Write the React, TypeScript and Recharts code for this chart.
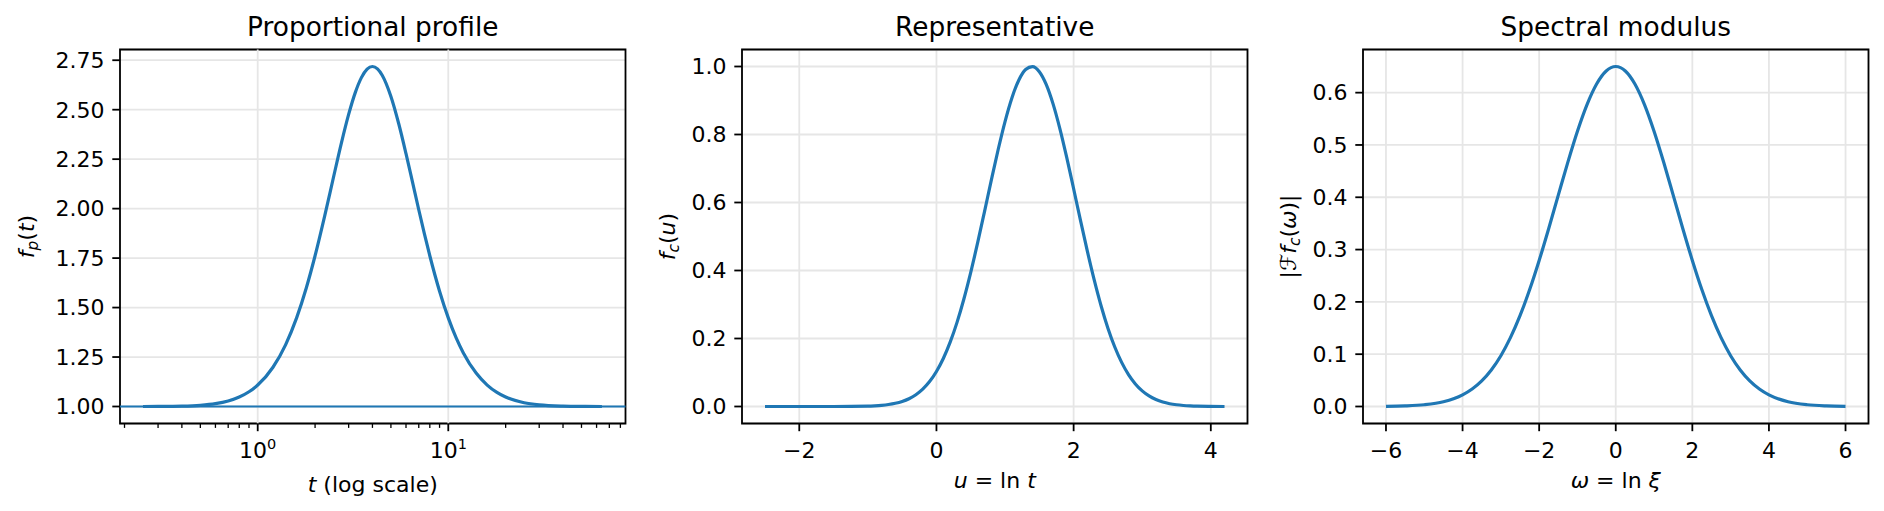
import {
  LineChart,
  Line,
  XAxis,
  YAxis,
  CartesianGrid,
  ReferenceLine,
  ReferenceArea,
} from "recharts";

// ---- panel 1: proportional profile, t on a log axis
const T_VALUES = [
  0.25, 0.3, 0.4, 0.5, 0.6, 0.7, 0.8, 0.9, 1.0, 1.2, 1.4, 1.6, 1.8, 2.0, 2.25,
  2.5, 2.75, 3.0, 3.25, 3.5, 3.75, 4.0, 4.25, 4.5, 5.0, 5.5, 6.0, 6.5, 7.0, 7.5,
  8.0, 9.0, 10, 11, 12, 14, 16, 18, 20, 25, 30, 40, 50, 64,
];
const FP_VALUES = [
  1.0001, 1.0004, 1.0019, 1.006, 1.0142, 1.0278, 1.0477, 1.0745, 1.1084,
  1.1971, 1.3118, 1.4481, 1.6003, 1.7618, 1.9658, 2.1598, 2.3325, 2.476,
  2.5864, 2.6621, 2.705, 2.7183, 2.7065, 2.6744, 2.5671, 2.4277, 2.2778,
  2.1311, 1.9944, 1.8711, 1.7619, 1.5828, 1.4481, 1.347, 1.2709, 1.1689,
  1.1083, 1.0712, 1.0477, 1.019, 1.0082, 1.0019, 1.0005, 1.0001,
];
const LOG_MAJOR = [1, 10];
const LOG_TICKS = [
  0.2, 0.3, 0.4, 0.5, 0.6, 0.7, 0.8, 0.9, 1, 2, 3, 4, 5, 6, 7, 8, 9, 10, 20,
  30, 40, 50, 60, 70, 80,
];
const FP_TICKS = [1.0, 1.25, 1.5, 1.75, 2.0, 2.25, 2.5, 2.75];

// ---- panel 2: representative in u = ln t
const U_VALUES = [
  -2.5, -2.0, -1.5, -1.0, -0.9, -0.8, -0.7, -0.6, -0.5, -0.4, -0.3, -0.2, -0.1,
  0.0, 0.1, 0.2, 0.3, 0.4, 0.5, 0.6, 0.7, 0.8, 0.9, 1.0, 1.1, 1.2, 1.3, 1.4,
  1.5, 1.6, 1.7, 1.8, 1.9, 2.0, 2.1, 2.2, 2.3, 2.4, 2.5, 2.6, 2.7, 2.8, 2.9,
  3.0, 3.1, 3.2, 3.3, 3.4, 3.5, 3.6, 3.7, 3.8, 4.2,
];
const FC_VALUES = [
  0, 0, 0.00005, 0.00118, 0.00206, 0.00349, 0.00579, 0.00938, 0.01484,
  0.02291, 0.03456, 0.05089, 0.07322, 0.10288, 0.14111, 0.18915, 0.24745,
  0.31626, 0.3947, 0.4811, 0.57269, 0.66578, 0.75584, 0.83811, 0.90756,
  0.95975, 0.99123, 0.99978, 0.98482, 0.94739, 0.89007, 0.81666, 0.73178,
  0.64036, 0.54726, 0.45678, 0.37235, 0.29639, 0.23043, 0.17497, 0.12973,
  0.09394, 0.06644, 0.04587, 0.03095, 0.02039, 0.01311, 0.00824, 0.00506,
  0.00303, 0.00177, 0.00101, 0.00003,
];
const U_TICKS = [-2, 0, 2, 4];
const FC_TICKS = [0, 0.2, 0.4, 0.6, 0.8, 1.0];

// ---- panel 3: spectral modulus
const W_VALUES = [
  -6, -5.5, -5, -4.5, -4, -3.75, -3.5, -3.25, -3, -2.75, -2.5, -2.25, -2,
  -1.75, -1.5, -1.25, -1, -0.75, -0.5, -0.25, 0, 0.25, 0.5, 0.75, 1, 1.25, 1.5,
  1.75, 2, 2.25, 2.5, 2.75, 3, 3.25, 3.5, 3.75, 4, 4.5, 5, 5.5, 6,
];
const SPEC_VALUES = [
  0.00032, 0.00109, 0.00331, 0.00902, 0.02213, 0.03332, 0.04887, 0.06981,
  0.09711, 0.13156, 0.17359, 0.22308, 0.27921, 0.34037, 0.40411, 0.46727,
  0.52621, 0.57717, 0.61656, 0.64147, 0.65, 0.64147, 0.61656, 0.57717,
  0.52621, 0.46727, 0.40411, 0.34037, 0.27921, 0.22308, 0.17359, 0.13156,
  0.09711, 0.06981, 0.04887, 0.03332, 0.02213, 0.00902, 0.00331, 0.00109,
  0.00032,
];
const W_TICKS = [-6, -4, -2, 0, 2, 4, 6];
const SPEC_TICKS = [0, 0.1, 0.2, 0.3, 0.4, 0.5, 0.6];

// ---- styling / layout
const FONT = "'DejaVu Sans', sans-serif";
const BLUE = "#1f77b4";
const GRID = "#e6e6e6";
const PLOT_W = 505.5;
const PLOT_TOP = 49.5;
const Y_AXIS_W = 110;
const X_AXIS_H = 87.5;
const CHART_H = 511;
const CHART_W = Y_AXIS_W + PLOT_W + 10;
const CX = Y_AXIS_W + PLOT_W / 2;
const CY = PLOT_TOP + (CHART_H - PLOT_TOP - X_AXIS_H) / 2;

const tickStyle = { fontSize: 22, fill: "#000", fontFamily: FONT };
const tickLine = { stroke: "#000", strokeWidth: 1.8 };
const minus = (v: number, digits: number) =>
  v.toFixed(digits).replace("-", "\u2212");

function LogTick(props: any) {
  const { x, y, payload } = props;
  const v = payload.value;
  const major = LOG_MAJOR.includes(v);
  return (
    <g>
      <line
        x1={x}
        x2={x}
        y1={y}
        y2={y + (major ? 7.7 : 4.4)}
        stroke="#000"
        strokeWidth={major ? 1.8 : 1.3}
      />
      {major && (
        <text
          x={x}
          y={y + 34.3}
          textAnchor="middle"
          fontSize={22}
          fontFamily={FONT}
          fill="#000"
        >
          10
          <tspan fontSize={14.5} dy={-9}>
            {Math.round(Math.log10(v))}
          </tspan>
        </text>
      )}
    </g>
  );
}

function Title({ text }: { text: string }) {
  return (
    <text x={CX} y={36} textAnchor="middle" fontSize={26.4} fontFamily={FONT} fill="#000">
      {text}
    </text>
  );
}

function RotLabel({ x, children }: { x: number; children: any }) {
  return (
    <text
      x={x}
      y={CY}
      transform={`rotate(-90 ${x} ${CY})`}
      textAnchor="middle"
      fontSize={22}
      fontFamily={FONT}
      fill="#000"
    >
      {children}
    </text>
  );
}

function XLabel({ y, children }: { y: number; children: any }) {
  return (
    <text x={CX} y={y} textAnchor="middle" fontSize={22} fontFamily={FONT} fill="#000">
      {children}
    </text>
  );
}

const wrap = (left: number): React.CSSProperties => ({
  position: "absolute",
  left: left - Y_AXIS_W,
  top: 0,
});

const margin = { top: PLOT_TOP, right: 10, bottom: 0, left: 0 };

function ProfilePanel() {
  const data = T_VALUES.map((t, i) => ({ t, fp: FP_VALUES[i] }));
  const xd: [number, number] = [0.1894, 85.1];
  const yd: [number, number] = [0.9141, 2.8042];
  return (
    <div style={wrap(120)}>
      <LineChart width={CHART_W} height={CHART_H} data={data} margin={margin}>
        <CartesianGrid vertical={false} stroke={GRID} strokeWidth={1.8} />
        {LOG_MAJOR.map((v) => (
          <ReferenceLine key={v} x={v} stroke={GRID} strokeWidth={1.8} />
        ))}
        <XAxis
          dataKey="t"
          type="number"
          scale="log"
          domain={xd}
          allowDataOverflow
          ticks={LOG_TICKS}
          interval={0}
          tick={<LogTick />}
          tickLine={false}
          tickSize={0}
          tickMargin={0}
          axisLine={false}
          height={X_AXIS_H}
        />
        <YAxis
          type="number"
          domain={yd}
          allowDataOverflow
          ticks={FP_TICKS}
          interval={0}
          tickFormatter={(v: number) => minus(v, 2)}
          tick={tickStyle}
          tickLine={tickLine}
          tickSize={7.7}
          tickMargin={7.7}
          axisLine={false}
          width={Y_AXIS_W}
        />
        <ReferenceLine y={1} stroke={BLUE} strokeWidth={1.8} />
        <Line
          dataKey="fp"
          type="monotone"
          stroke={BLUE}
          strokeWidth={3.2}
          dot={false}
          isAnimationActive={false}
        />
        <ReferenceArea
          x1={xd[0]}
          x2={xd[1]}
          y1={yd[0]}
          y2={yd[1]}
          fill="none"
          fillOpacity={0}
          stroke="#000"
          strokeWidth={1.8}
          ifOverflow="visible"
        />
        <Title text="Proportional profile" />
        <RotLabel x={Y_AXIS_W - 86.5}>
          <tspan fontStyle="italic">f</tspan>
          <tspan fontStyle="italic" fontSize={15.4} dy={4}>
            p
          </tspan>
          <tspan dy={-4}>(</tspan>
          <tspan fontStyle="italic">t</tspan>
          <tspan>)</tspan>
        </RotLabel>
        <XLabel y={491.5}>
          <tspan fontStyle="italic">t</tspan>
          <tspan> (log scale)</tspan>
        </XLabel>
      </LineChart>
    </div>
  );
}

function RepresentativePanel() {
  const data = U_VALUES.map((u, i) => ({ u, fc: FC_VALUES[i] }));
  const xd: [number, number] = [-2.835, 4.535];
  const yd: [number, number] = [-0.05, 1.05];
  return (
    <div style={wrap(741.5)}>
      <LineChart width={CHART_W} height={CHART_H} data={data} margin={margin}>
        <CartesianGrid stroke={GRID} strokeWidth={1.8} />
        <XAxis
          dataKey="u"
          type="number"
          domain={xd}
          allowDataOverflow
          ticks={U_TICKS}
          interval={0}
          tickFormatter={(v: number) => minus(v, 0)}
          tick={tickStyle}
          tickLine={tickLine}
          tickSize={7.7}
          tickMargin={11}
          axisLine={false}
          height={X_AXIS_H}
        />
        <YAxis
          type="number"
          domain={yd}
          allowDataOverflow
          ticks={FC_TICKS}
          interval={0}
          tickFormatter={(v: number) => minus(v, 1)}
          tick={tickStyle}
          tickLine={tickLine}
          tickSize={7.7}
          tickMargin={7.7}
          axisLine={false}
          width={Y_AXIS_W}
        />
        <Line
          dataKey="fc"
          type="monotone"
          stroke={BLUE}
          strokeWidth={3.2}
          dot={false}
          isAnimationActive={false}
        />
        <ReferenceArea
          x1={xd[0]}
          x2={xd[1]}
          y1={yd[0]}
          y2={yd[1]}
          fill="none"
          fillOpacity={0}
          stroke="#000"
          strokeWidth={1.8}
          ifOverflow="visible"
        />
        <Title text="Representative" />
        <RotLabel x={Y_AXIS_W - 67}>
          <tspan fontStyle="italic">f</tspan>
          <tspan fontStyle="italic" fontSize={15.4} dy={4}>
            c
          </tspan>
          <tspan dy={-4}>(</tspan>
          <tspan fontStyle="italic">u</tspan>
          <tspan>)</tspan>
        </RotLabel>
        <XLabel y={488.3}>
          <tspan fontStyle="italic">u</tspan>
          <tspan> = ln </tspan>
          <tspan fontStyle="italic">t</tspan>
        </XLabel>
      </LineChart>
    </div>
  );
}

function SpectralPanel() {
  const data = W_VALUES.map((w, i) => ({ w, s: SPEC_VALUES[i] }));
  const xd: [number, number] = [-6.6, 6.6];
  const yd: [number, number] = [-0.0325, 0.6825];
  return (
    <div style={wrap(1363)}>
      <LineChart width={CHART_W} height={CHART_H} data={data} margin={margin}>
        <CartesianGrid stroke={GRID} strokeWidth={1.8} />
        <XAxis
          dataKey="w"
          type="number"
          domain={xd}
          allowDataOverflow
          ticks={W_TICKS}
          interval={0}
          tickFormatter={(v: number) => minus(v, 0)}
          tick={tickStyle}
          tickLine={tickLine}
          tickSize={7.7}
          tickMargin={11}
          axisLine={false}
          height={X_AXIS_H}
        />
        <YAxis
          type="number"
          domain={yd}
          allowDataOverflow
          ticks={SPEC_TICKS}
          interval={0}
          tickFormatter={(v: number) => minus(v, 1)}
          tick={tickStyle}
          tickLine={tickLine}
          tickSize={7.7}
          tickMargin={7.7}
          axisLine={false}
          width={Y_AXIS_W}
        />
        <Line
          dataKey="s"
          type="monotone"
          stroke={BLUE}
          strokeWidth={3.2}
          dot={false}
          isAnimationActive={false}
        />
        <ReferenceArea
          x1={xd[0]}
          x2={xd[1]}
          y1={yd[0]}
          y2={yd[1]}
          fill="none"
          fillOpacity={0}
          stroke="#000"
          strokeWidth={1.8}
          ifOverflow="visible"
        />
        <Title text="Spectral modulus" />
        <RotLabel x={Y_AXIS_W - 67}>
          <tspan>|</tspan>
          <tspan fontStyle="italic">{"\u2131"}</tspan>
          <tspan fontStyle="italic">f</tspan>
          <tspan fontStyle="italic" fontSize={15.4} dy={4}>
            c
          </tspan>
          <tspan dy={-4}>(</tspan>
          <tspan fontStyle="italic">{"\u03c9"}</tspan>
          <tspan>)|</tspan>
        </RotLabel>
        <XLabel y={488.3}>
          <tspan fontStyle="italic">{"\u03c9"}</tspan>
          <tspan> = ln </tspan>
          <tspan fontStyle="italic">{"\u03be"}</tspan>
        </XLabel>
      </LineChart>
    </div>
  );
}

export default function App() {
  return (
    <div
      style={{
        position: "absolute",
        left: 0,
        top: 0,
        width: 1884,
        height: 511,
        background: "#fff",
        overflow: "hidden",
      }}
    >
      <ProfilePanel />
      <RepresentativePanel />
      <SpectralPanel />
    </div>
  );
}
